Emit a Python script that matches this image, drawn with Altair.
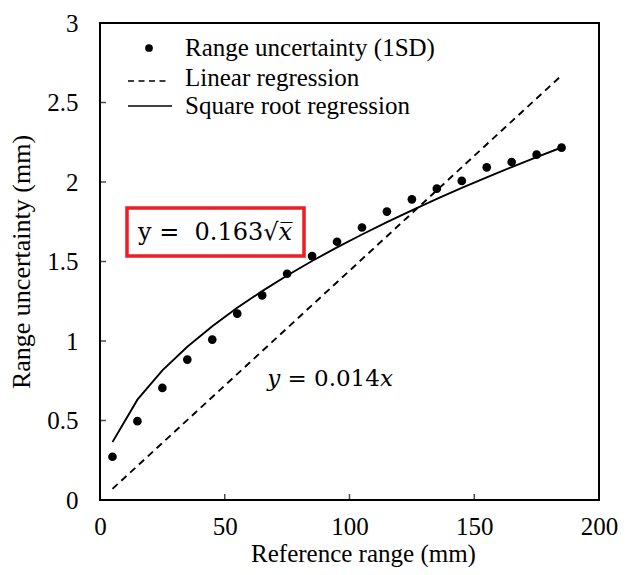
import altair as alt
import pandas as pd

# ---- data ----
ref_range = [5, 15, 25, 35, 45, 55, 65, 75, 85, 95, 105, 115, 125, 135, 145, 155, 165, 175, 185]
uncertainty = [0.272, 0.496, 0.705, 0.883, 1.009, 1.172, 1.287, 1.423, 1.534, 1.624,
               1.714, 1.814, 1.891, 1.958, 2.007, 2.092, 2.126, 2.172, 2.216]
sqrt_fit = [0.364, 0.631, 0.815, 0.964, 1.093, 1.209, 1.314, 1.412, 1.503, 1.589,
            1.670, 1.748, 1.822, 1.894, 1.963, 2.029, 2.094, 2.156, 2.217]
lin_x = [5, 185]
lin_fit = [0.07, 2.67]
x_ticks = [0, 50, 100, 150, 200]
y_ticks = [0, 0.5, 1, 1.5, 2, 2.5, 3]

SERIF = "Liberation Serif"
MATH = "DejaVu Serif"
RED = "#ee1c24"

pts = pd.DataFrame({"x": ref_range, "y": uncertainty})
sq = pd.DataFrame({"x": ref_range, "y": sqrt_fit})
lin = pd.DataFrame({"x": lin_x, "y": lin_fit})

xscale = alt.Scale(domain=[0, 200], nice=False)
yscale = alt.Scale(domain=[0, 3], nice=False)

xaxis = alt.Axis(values=x_ticks, format="d", title="Reference range (mm)",
                 ticks=False, tickSize=0, domain=False, grid=False,
                 labelFont=SERIF, labelFontSize=25, labelColor="black",
                 labelPadding=14, labelFlush=False, labelOverlap=False,
                 titleFont=SERIF, titleFontSize=25, titleFontWeight="normal",
                 titleColor="black", titleBaseline="alphabetic",
                 titleX=263, titleY=61, titleAlign="center")
yaxis = alt.Axis(values=y_ticks, format="~g", title="Range uncertainty (mm)",
                 ticks=False, tickSize=0, domain=False, grid=False,
                 labelFont=SERIF, labelFontSize=25, labelColor="black",
                 labelPadding=22, labelFlush=False, labelOverlap=False,
                 titleFont=SERIF, titleFontSize=26, titleFontWeight="normal",
                 titleColor="black", titleBaseline="alphabetic", titleX=-71)

points = alt.Chart(pts).mark_point(filled=True, color="black", size=75, opacity=1).encode(
    x=alt.X("x:Q", scale=xscale, axis=xaxis),
    y=alt.Y("y:Q", scale=yscale, axis=yaxis),
)
sqrt_line = alt.Chart(sq).mark_line(color="black", strokeWidth=1.9).encode(
    x=alt.X("x:Q", scale=xscale), y=alt.Y("y:Q", scale=yscale))
lin_line = alt.Chart(lin).mark_line(color="black", strokeWidth=1.9, strokeDash=[7, 5]).encode(
    x=alt.X("x:Q", scale=xscale), y=alt.Y("y:Q", scale=yscale))

# inward ticks
xt = alt.Chart(pd.DataFrame({"v": x_ticks[1:-1]})).mark_tick(
    orient="vertical", color="black", size=6, thickness=1.5, yOffset=-3).encode(
    x=alt.X("v:Q", scale=xscale), y=alt.value(477))
yt = alt.Chart(pd.DataFrame({"v": y_ticks[1:-1]})).mark_tick(
    orient="horizontal", color="black", size=6, thickness=1.5, xOffset=3).encode(
    y=alt.Y("v:Q", scale=yscale), x=alt.value(0))

one = pd.DataFrame({"a": [0]})

# legend
leg_dot = alt.Chart(one).mark_point(filled=True, color="black", size=60, opacity=1).encode(
    x=alt.value(49), y=alt.value(25))
leg_dash = alt.Chart(one).mark_rule(color="black", strokeWidth=1.6, strokeDash=[6, 4.5]).encode(
    x=alt.value(28), x2=alt.value(70), y=alt.value(58))
leg_solid = alt.Chart(one).mark_rule(color="black", strokeWidth=1.6).encode(
    x=alt.value(28), x2=alt.value(72), y=alt.value(83))
leg_t1 = alt.Chart(one).mark_text(text="Range uncertainty (1SD)", font=SERIF, fontSize=25,
                                  align="left", baseline="middle", color="black").encode(
    x=alt.value(85), y=alt.value(25))
leg_t2 = alt.Chart(one).mark_text(text="Linear regression", font=SERIF, fontSize=25,
                                  align="left", baseline="middle", color="black").encode(
    x=alt.value(85), y=alt.value(55))
leg_t3 = alt.Chart(one).mark_text(text="Square root regression", font=SERIF, fontSize=25,
                                  align="left", baseline="middle", color="black").encode(
    x=alt.value(85), y=alt.value(83))

# equations
box = alt.Chart(one).mark_rect(fillOpacity=0, stroke=RED, strokeWidth=3.5).encode(
    x=alt.value(27), x2=alt.value(204), y=alt.value(185), y2=alt.value(233))
eq1 = alt.Chart(one).mark_text(text="y =\u00a0 0.163√𝑥\u0305", font=MATH, fontSize=24,
                               align="center", baseline="middle", color="black").encode(
    x=alt.value(115), y=alt.value(210))
eq2 = alt.Chart(one).mark_text(text="𝑦 = 0.014𝑥", font=MATH, fontSize=23,
                               align="center", baseline="middle", color="black").encode(
    x=alt.value(230), y=alt.value(356))

chart = alt.layer(
    lin_line, sqrt_line, points, xt, yt,
    leg_dot, leg_dash, leg_solid, leg_t1, leg_t2, leg_t3,
    box, eq1, eq2,
).properties(
    width=499, height=477,
    padding={"left": 92, "top": 15, "right": 26, "bottom": 67},
    autosize=alt.AutoSizeParams(type="none"),
    background="white",
).configure_view(stroke="black", strokeWidth=2)

chart.save("out.html", embed_options={"renderer": "svg", "actions": False})
